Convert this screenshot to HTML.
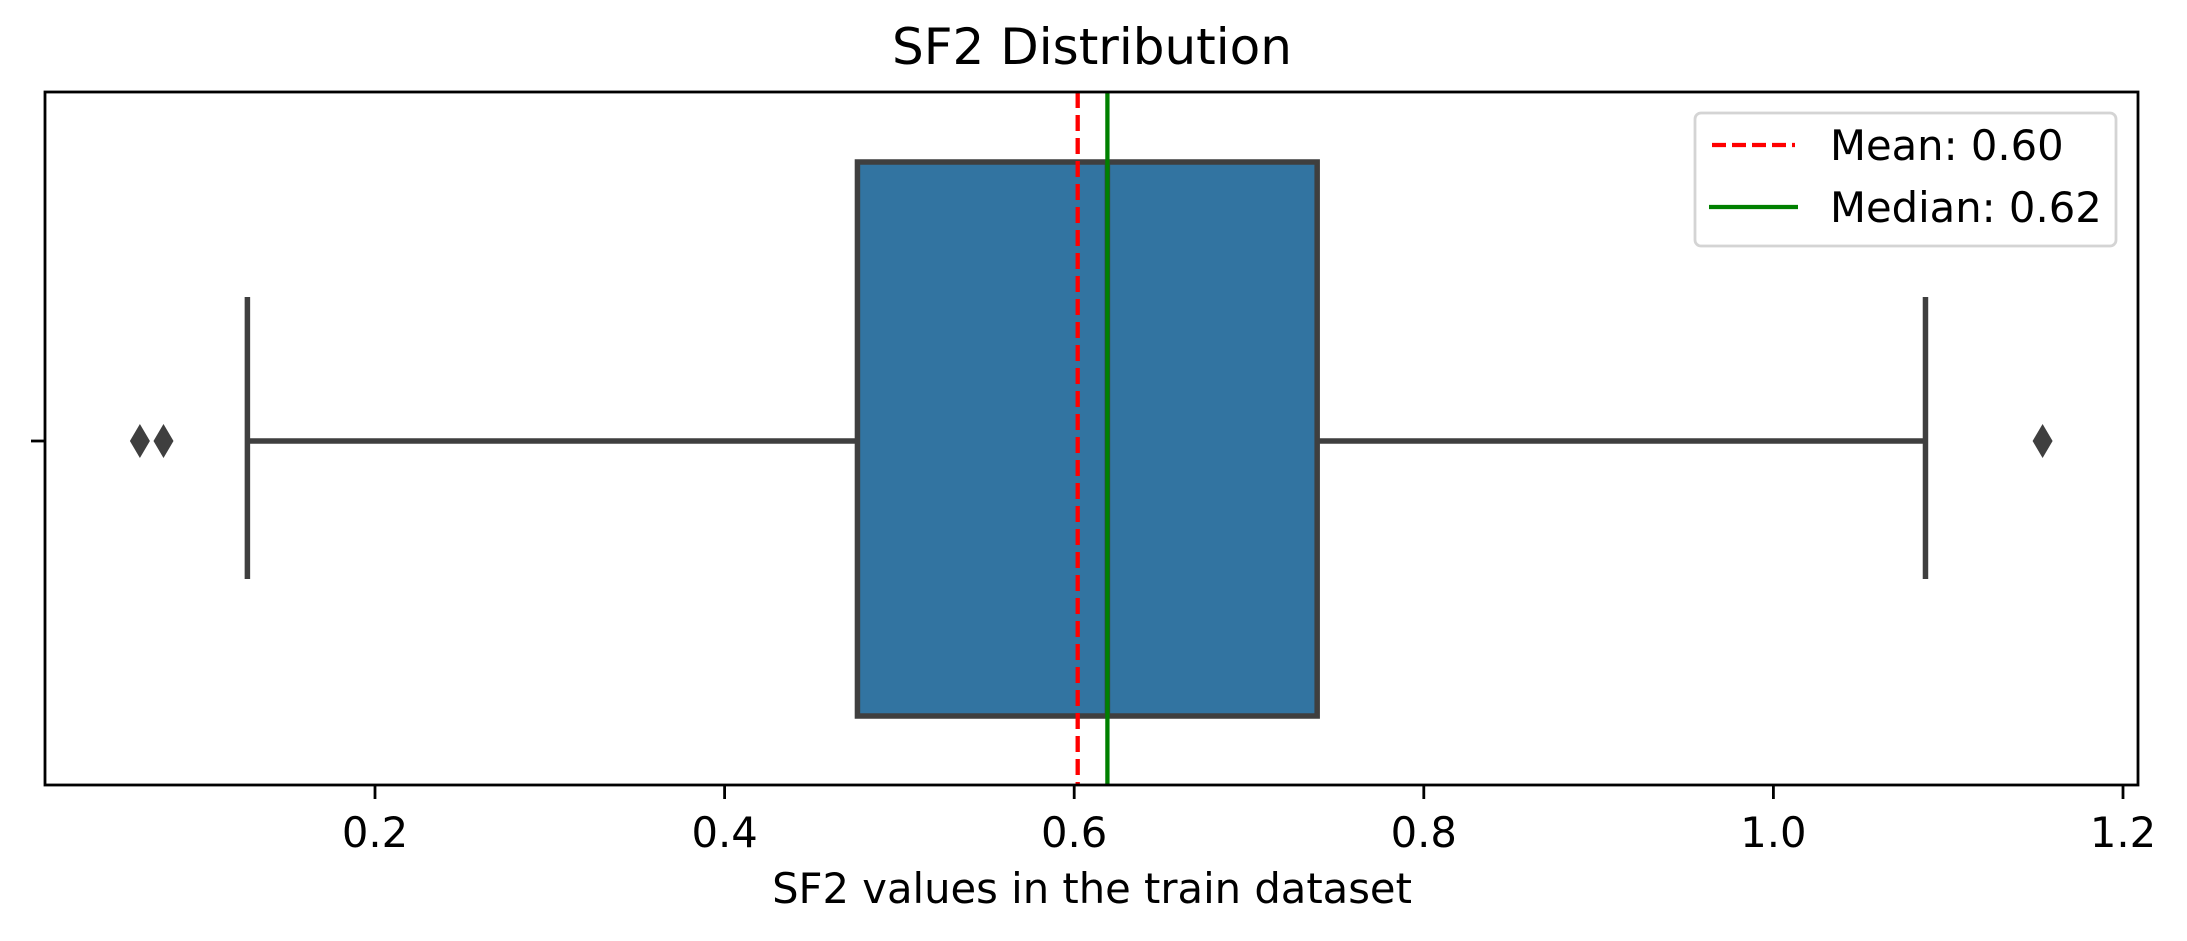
<!DOCTYPE html>
<html><head><meta charset="utf-8"><style>
html,body{margin:0;padding:0;background:#fff;}
svg{display:block;font-family:"DejaVu Sans","Liberation Sans",sans-serif;}
</style></head><body>
<svg id="chart" width="2187" height="941" viewBox="0 0 2187 941">
<text x="1092" y="64" font-size="50" text-anchor="middle">SF2 Distribution</text>
<g id="plot"></g>
<text x="1092" y="903" font-size="41.7" text-anchor="middle">SF2 values in the train dataset</text>
</svg>
<script>
const tickValues = [0.2, 0.4, 0.6, 0.8, 1.0, 1.2];
const tickLabels = ["0.2", "0.4", "0.6", "0.8", "1.0", "1.2"];
const boxStats = [0.127, 0.476, 0.619, 0.739, 1.087]; // whisker-low, q1, median, q3, whisker-high
const outliers = [0.0655, 0.079, 1.154];
const meanValue = [0.602];
const medianValue = [0.619];
const legendLabels = ["Mean: 0.60", "Median: 0.62"];

const L=45, R=2138, T=92, B=785;
const x = v => 375 + (v - 0.2) * 1748;
const yc = 441;
const NS="http://www.w3.org/2000/svg";
const g=document.getElementById('plot');
function mk(tag, attrs, parent){const e=document.createElementNS(NS,tag);for(const k in attrs)e.setAttribute(k,attrs[k]);(parent||g).appendChild(e);return e;}

let e=mk('line',{x1:x(boxStats[0]),x2:x(boxStats[1]),y1:yc,y2:yc,stroke:'#3f3f3f','stroke-width':5.5});


e=mk('line',{x1:x(boxStats[3]),x2:x(boxStats[4]),y1:yc,y2:yc,stroke:'#3f3f3f','stroke-width':5.5});


e=mk('line',{x1:x(boxStats[0]),x2:x(boxStats[0]),y1:297,y2:579,stroke:'#3f3f3f','stroke-width':5.5});


e=mk('line',{x1:x(boxStats[4]),x2:x(boxStats[4]),y1:297,y2:579,stroke:'#3f3f3f','stroke-width':5.5});


e=mk('rect',{x:x(boxStats[1]),y:162,width:x(boxStats[3])-x(boxStats[1]),height:554,fill:'#3274a1',stroke:'#3f3f3f','stroke-width':5.5});


e=mk('line',{x1:x(boxStats[2]),x2:x(boxStats[2]),y1:162,y2:716,stroke:'#3f3f3f','stroke-width':5.5});


outliers.forEach(v=>{
  const cx=x(v);
  const o=mk('polygon',{points:`${cx},${yc-17} ${cx+10},${yc} ${cx},${yc+17} ${cx-10},${yc}`,fill:'#3f3f3f'});
  
  
});
e=mk('line',{x1:x(meanValue[0]),x2:x(meanValue[0]),y1:T,y2:B,stroke:'#ff0000','stroke-width':4.3,'stroke-dasharray':'16 7'});


e=mk('line',{x1:x(medianValue[0]),x2:x(medianValue[0]),y1:T,y2:B,stroke:'#008000','stroke-width':4.3});


e=mk('rect',{x:L,y:T,width:R-L,height:B-T,fill:'none',stroke:'#000','stroke-width':2.8});


e=mk('line',{x1:L-14,x2:L,y1:yc,y2:yc,stroke:'#000','stroke-width':2.8});


tickValues.forEach((v,i)=>{
  const t=mk('line',{x1:x(v),x2:x(v),y1:B,y2:B+14,stroke:'#000','stroke-width':2.8});
  
  
  const lb=mk('text',{x:x(v),y:847,'font-size':41.7,'text-anchor':'middle'});
  lb.textContent=tickLabels[i];
  
  
});
const lg=mk('g',{});


mk('rect',{x:1695,y:113,width:421,height:133,rx:6,fill:'#fff','fill-opacity':0.8,stroke:'#d4d4d4','stroke-width':2.8},lg);
let l1=mk('line',{x1:1712,x2:1795,y1:145,y2:145,stroke:'#ff0000','stroke-width':4.3,'stroke-dasharray':'14 6'},lg);


let t1=mk('text',{x:1830,y:160,'font-size':41.7},lg);t1.textContent=legendLabels[0];


let l2=mk('line',{x1:1709,x2:1798,y1:207,y2:207,stroke:'#008000','stroke-width':4.3},lg);


let t2=mk('text',{x:1830,y:222,'font-size':41.7},lg);t2.textContent=legendLabels[1];


</script>
</body></html>
